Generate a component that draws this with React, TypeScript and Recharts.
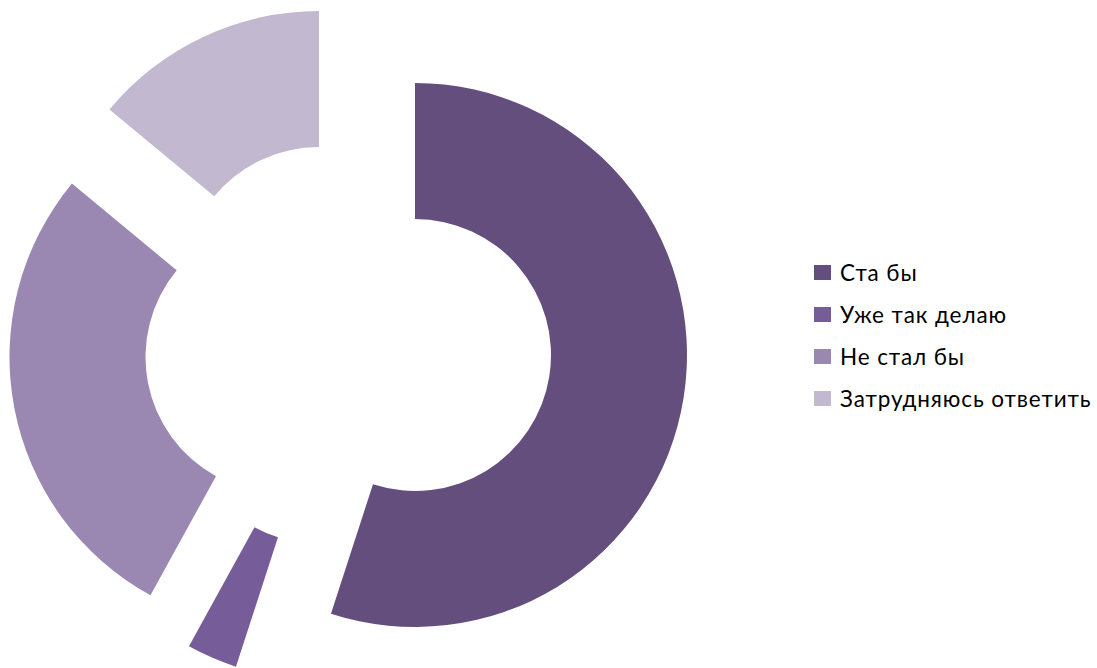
import React from 'react';
import { PieChart, Pie, Cell } from 'recharts';

const categories = ['Ста бы', 'Уже так делаю', 'Не стал бы', 'Затрудняюсь ответить'];
const values = [55, 3, 28, 14];
const colors = ['#644e7e', '#765c98', '#9a88b2', '#c2b8d0'];

// layout: each slice is exploded away from the ring with its own centre
const sliceCenters: [number, number][] = [
  [415, 355],
  [320, 408],
  [281.5, 357],
  [319, 283],
];

const data = categories.map((name, i) => ({ name, value: values[i] }));

export default function App() {
  return (
    <div style={{ position: 'absolute', left: 0, top: 0, width: 1097, height: 668, background: '#fff', overflow: 'hidden' }}>
      <PieChart width={1097} height={668} margin={{ top: 0, right: 0, bottom: 0, left: 0 }}>
        {sliceCenters.map(([cx, cy], i) => (
          <Pie
            key={`pie-${i}`}
            data={data}
            dataKey="value"
            nameKey="name"
            cx={cx}
            cy={cy}
            innerRadius={136}
            outerRadius={272}
            startAngle={90}
            endAngle={-270}
            stroke="none"
            isAnimationActive={false}
          >
            {data.map((_, j) => (
              <Cell key={`c-${i}-${j}`} fill={j === i ? colors[j] : 'transparent'} stroke="none" />
            ))}
          </Pie>
        ))}
      </PieChart>
      <div style={{ position: 'absolute', left: 814, top: 252, fontFamily: "Lato, 'Noto Sans', sans-serif", fontSize: 22.5, letterSpacing: 0.9, color: '#000' }}>
        {categories.map((c, i) => (
          <div key={c} style={{ display: 'flex', alignItems: 'center', height: 41.8, whiteSpace: 'nowrap' }}>
            <span style={{ display: 'inline-block', width: 17, height: 15, background: colors[i], marginRight: 9, flexShrink: 0 }} />
            <span>{c}</span>
          </div>
        ))}
      </div>
    </div>
  );
}
